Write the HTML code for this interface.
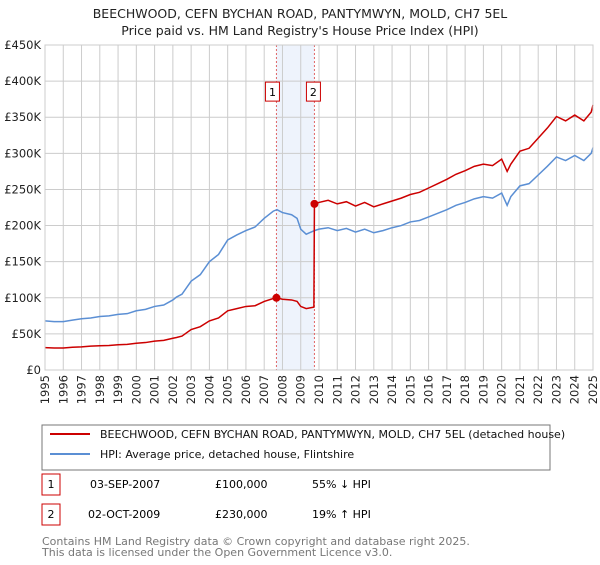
<!DOCTYPE html>
<html><head><meta charset="utf-8"><style>
body{margin:0;background:#fff;font-family:"Liberation Sans","DejaVu Sans",sans-serif;}
svg text{font-family:"DejaVu Sans","Liberation Sans",sans-serif;}
</style></head><body>
<svg id="c" width="600" height="560" xmlns="http://www.w3.org/2000/svg">
<text x="300" y="18" text-anchor="middle" font-size="12.5" fill="#222">BEECHWOOD, CEFN BYCHAN ROAD, PANTYMWYN, MOLD, CH7 5EL</text>
<text x="300" y="35" text-anchor="middle" font-size="12.5" fill="#222">Price paid vs. HM Land Registry's House Price Index (HPI)</text>
<g id="grid"></g><g id="marks"></g><g id="axes"></g>
<rect x="42" y="425" width="508" height="45" fill="none" stroke="#777"/>
<line x1="50" y1="434" x2="90" y2="434" stroke="#cc0000" stroke-width="2"/>
<text x="100" y="438" font-size="11" fill="#111">BEECHWOOD, CEFN BYCHAN ROAD, PANTYMWYN, MOLD, CH7 5EL (detached house)</text>
<line x1="50" y1="454" x2="90" y2="454" stroke="#5b8fd4" stroke-width="2"/>
<text x="100" y="458" font-size="11" fill="#111">HPI: Average price, detached house, Flintshire</text>
<rect x="42" y="474" width="18" height="21" fill="none" stroke="#cc0000"/>
<text x="51" y="488" text-anchor="middle" font-size="11">1</text>
<text x="90" y="488" font-size="11">03-SEP-2007</text>
<text x="215" y="488" font-size="11">£100,000</text>
<text x="312" y="488" font-size="11">55% ↓ HPI</text>
<rect x="42" y="504" width="18" height="21" fill="none" stroke="#cc0000"/>
<text x="51" y="518" text-anchor="middle" font-size="11">2</text>
<text x="88" y="518" font-size="11">02-OCT-2009</text>
<text x="215" y="518" font-size="11">£230,000</text>
<text x="312" y="518" font-size="11">19% ↑ HPI</text>
<text x="42" y="545" font-size="11" fill="#777">Contains HM Land Registry data © Crown copyright and database right 2025.</text>
<text x="42" y="556" font-size="11" fill="#777">This data is licensed under the Open Government Licence v3.0.</text>
</svg>
<script>
const yTicks=[0,50,100,150,200,250,300,350,400,450];
const yLabels=["£0","£50K","£100K","£150K","£200K","£250K","£300K","£350K","£400K","£450K"];
const years=[1995,1996,1997,1998,1999,2000,2001,2002,2003,2004,2005,2006,2007,2008,2009,2010,2011,2012,2013,2014,2015,2016,2017,2018,2019,2020,2021,2022,2023,2024,2025];
const hpiDates=[1995,1995.5,1996,1996.5,1997,1997.5,1998,1998.5,1999,1999.5,2000,2000.5,2001,2001.5,2002,2002.2,2002.5,2003,2003.5,2004,2004.5,2005,2005.5,2006,2006.5,2007,2007.5,2007.7,2008,2008.5,2008.8,2009,2009.3,2009.75,2010,2010.5,2011,2011.5,2012,2012.5,2013,2013.5,2014,2014.5,2015,2015.5,2016,2016.5,2017,2017.5,2018,2018.5,2019,2019.5,2020,2020.3,2020.5,2021,2021.5,2022,2022.5,2023,2023.5,2024,2024.5,2024.9,2025];
const hpiValues=[68,67,67,69,71,72,74,75,77,78,82,84,88,90,97,101,105,123,132,150,160,180,187,193,198,210,220,222,218,215,210,195,188,193,195,197,193,196,191,195,190,193,197,200,205,207,212,217,222,228,232,237,240,238,245,228,240,255,258,270,282,295,290,297,290,300,308];
const saleDates=[1995,1995.5,1996,1996.5,1997,1997.5,1998,1998.5,1999,1999.5,2000,2000.5,2001,2001.5,2002,2002.2,2002.5,2003,2003.5,2004,2004.5,2005,2005.5,2006,2006.5,2007,2007.5,2007.67,2008,2008.5,2008.8,2009,2009.3,2009.72,2009.75,2010,2010.5,2011,2011.5,2012,2012.5,2013,2013.5,2014,2014.5,2015,2015.5,2016,2016.5,2017,2017.5,2018,2018.5,2019,2019.5,2020,2020.3,2020.5,2021,2021.5,2022,2022.5,2023,2023.5,2024,2024.5,2024.9,2025];
const saleValues=[31,30.5,30.5,31.5,32,33,33.5,34,35,35.5,37,38,40,41,44,45,47,56,60,68,72,82,85,88,89,95,99,100,98,97,95,88,85,87,230,232,235,230,233,227,232,226,230,234,238,243,246,252,258,264,271,276,282,285,283,292,275,285,303,307,321,335,351,345,353,345,357,367];
const sales=[{d:2007.67,v:100,n:"1"},{d:2009.75,v:230,n:"2"}];
const NS="http://www.w3.org/2000/svg";
const X0=45,X1=593,Y0=370,Y1=45;
const xs=d=>X0+(d-1995)/30*(X1-X0);
const ys=v=>Y0-v/450*(Y0-Y1);
function mk(p,t,a){const e=document.createElementNS(NS,t);for(const k in a)e.setAttribute(k,a[k]);p.appendChild(e);return e;}
const g=document.getElementById('grid'),m=document.getElementById('marks'),ax=document.getElementById('axes');
const band=mk(g,'rect',{x:xs(sales[0].d),y:Y1,width:xs(sales[1].d)-xs(sales[0].d),height:Y0-Y1,fill:'#eef3fc'});


yTicks.forEach((t,i)=>{
 const l=mk(g,'line',{x1:X0,x2:X1,y1:ys(t),y2:ys(t),stroke:'#ccc'});
 
 
 const tx=mk(ax,'text',{x:X0-4,y:ys(t)+4,'text-anchor':'end','font-size':'11.5',fill:'#222'});
 tx.textContent=yLabels[i];
 
 
});
years.forEach(y=>{
 const l=mk(g,'line',{x1:xs(y),x2:xs(y),y1:Y1,y2:Y0,stroke:'#ccc'});
 
 
 const lx=xs(y)+4,ly=Y0+5;
 const tx=mk(ax,'text',{x:lx,y:ly,'font-size':'11.5',fill:'#222','text-anchor':'end',transform:'rotate(-90 '+lx+' '+ly+')'});
 tx.textContent=y;
 
 
});
sales.forEach(s=>{
 const l=mk(g,'line',{x1:xs(s.d),x2:xs(s.d),y1:Y1,y2:Y0,stroke:'#e06666','stroke-dasharray':'2,2'});
 
 
 const r=mk(m,'rect',{x:xs(s.d)-11-(s.n==="1"?0:-3),y:ys(400)+1,width:14,height:19,fill:'#fff',stroke:'#cc0000'});
 
 
 const t=mk(m,'text',{x:xs(s.d)-4-(s.n==="1"?0:-3),y:ys(400)+15,'text-anchor':'middle','font-size':'11'});
 t.textContent=s.n;
 
 
});
const p1=mk(m,'polyline',{points:hpiDates.map((d,i)=>xs(d)+','+ys(hpiValues[i])).join(' '),fill:'none',stroke:'#5b8fd4','stroke-width':1.5});


const p2=mk(m,'polyline',{points:saleDates.map((d,i)=>xs(d)+','+ys(saleValues[i])).join(' '),fill:'none',stroke:'#cc0000','stroke-width':1.5});


sales.forEach(s=>{
 const c=mk(m,'circle',{cx:xs(s.d),cy:ys(s.v),r:4,fill:'#cc0000'});
 
 
});
const fr=mk(ax,'rect',{x:X0,y:Y1,width:X1-X0,height:Y0-Y1,fill:'none',stroke:'#ccc'});


</script>
</body></html>
